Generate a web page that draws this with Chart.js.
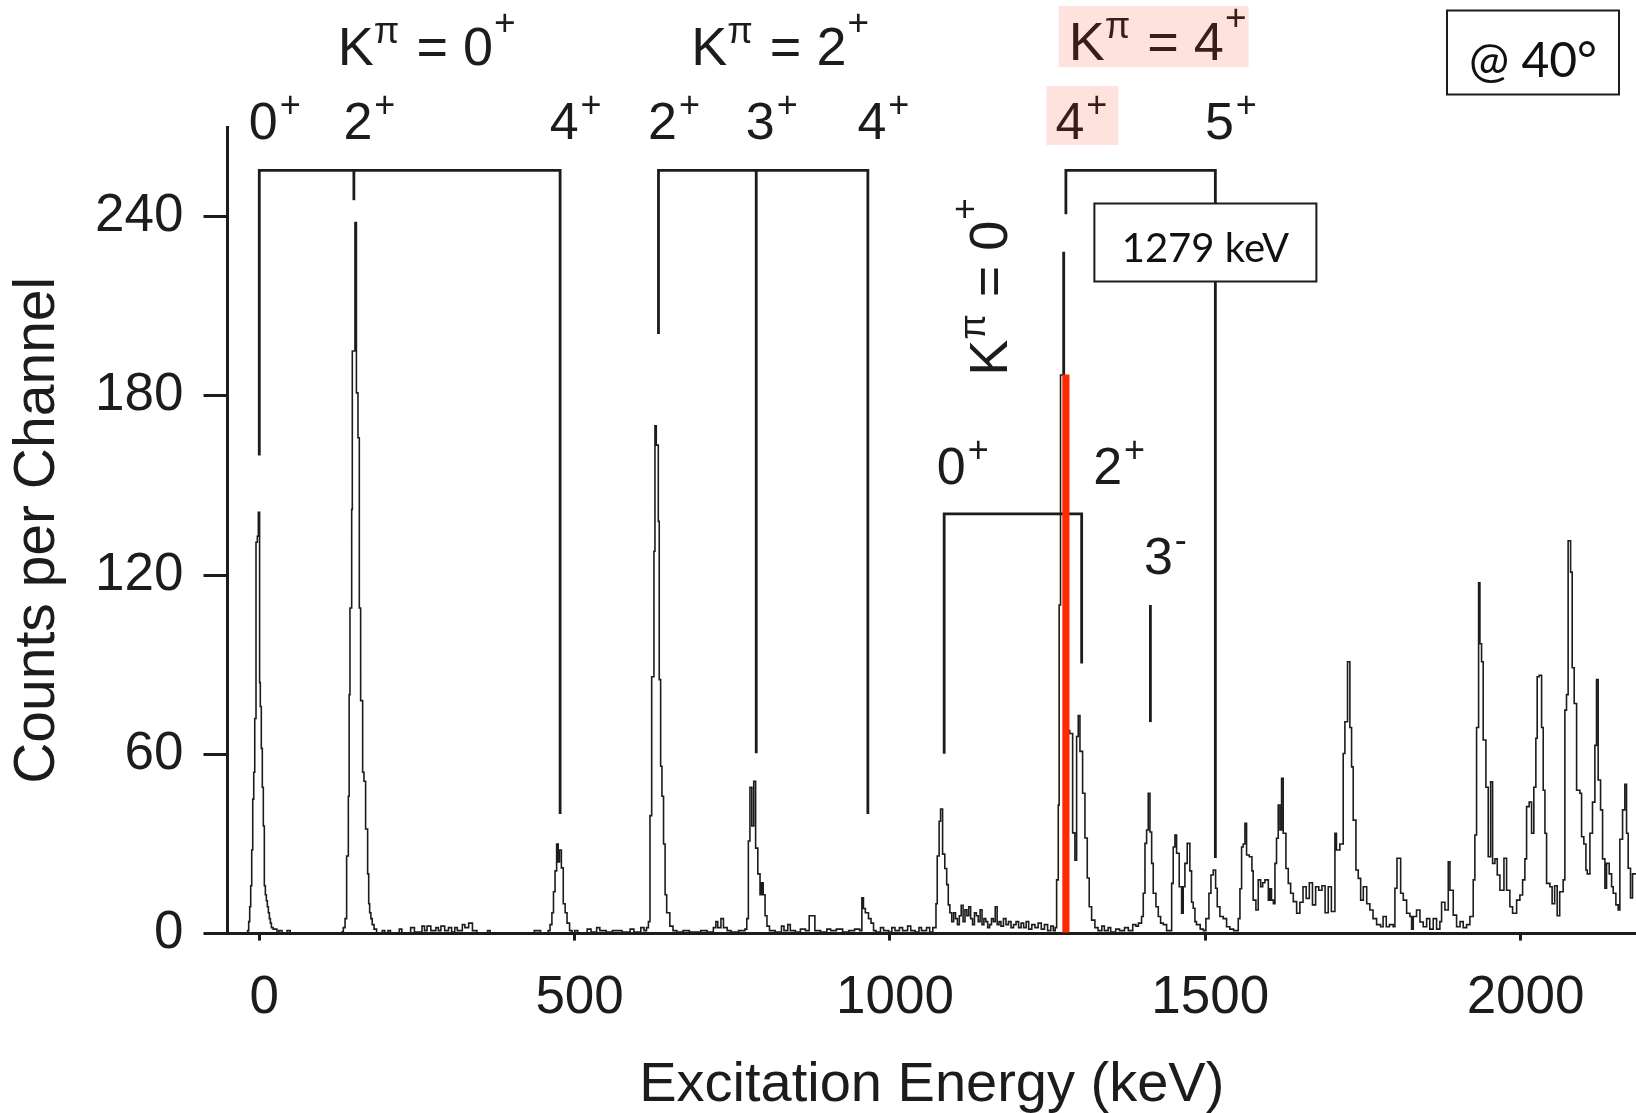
<!DOCTYPE html>
<html>
<head>
<meta charset="utf-8">
<title>Excitation spectrum @ 40°</title>
<script src="https://cdn.jsdelivr.net/npm/chart.js@4.4.1/dist/chart.umd.min.js"></script>
<style>
  html, body { margin: 0; padding: 0; background: #ffffff; }
  canvas { display: block; }
</style>
</head>
<body>
<canvas id="spectrum" width="1636" height="1113"></canvas>
<script>
// ---- spectrum: left edge of each channel group (keV) and counts per channel ----
const energy = [
  -22, -18.5, -16.8, -15.2, -13.6, -12.0, -10.4, -8.8, -7.2, -5.2, -3.1, -1.5, 0.5, 1.6, 3.2, 4.8, 6.4, 8.0, 9.6, 11.2, 12.8, 14.4, 16.0, 17.6, 19.2, 22, 28, 31, 36, 44, 49,
  131, 133.2, 136, 138.5, 141.2, 142.5, 143.8, 146.5, 147.5, 151.7, 154, 156.5, 158.6, 160.7, 163.9, 166, 168.6, 171.8, 173.5, 175, 177, 179, 182, 186,
  195, 199, 204, 208, 222, 226, 240, 246, 258, 262, 266, 272, 280, 284, 288, 294, 300, 305, 310, 314, 322, 326, 332, 338, 345, 362, 366, 436, 446,
  458, 461, 464, 466.5, 469, 471.5, 474, 476, 479, 482, 485, 488, 492, 496,
  500, 505, 520, 526, 535, 540, 550, 560, 575, 588, 594, 605, 610, 614, 617,
  619.5, 622.2, 625.8, 627.4, 629.5, 632.7, 634.2, 636.4, 638.5, 641, 643.5, 646, 651, 656, 662,
  672, 682, 700, 710, 720, 724, 727, 732, 736, 742, 748, 760, 770, 773,
  775.5, 778, 781, 784, 787, 790.5, 794, 796.5, 799, 802, 805, 809, 818, 828, 832, 838, 842, 850, 858, 866, 872, 881, 890, 900, 906, 915, 925, 935, 944, 952,
  955.5, 958, 961, 966, 970, 974, 978, 985, 990, 998, 1003, 1008, 1015, 1020, 1028, 1033, 1040, 1046, 1050, 1058, 1063, 1068,
  1073, 1075, 1078, 1080.3, 1083.5, 1087, 1090, 1092.5, 1095, 1098, 1101, 1104, 1107, 1110, 1113, 1116, 1119, 1122, 1125, 1128,
  1131, 1134, 1137, 1140, 1143, 1146, 1149, 1152, 1155, 1158, 1161, 1164, 1167, 1170, 1173, 1176, 1180, 1184, 1188, 1192,
  1196, 1200, 1204, 1208, 1212, 1216, 1220, 1225, 1230, 1235, 1240, 1245, 1250, 1255, 1259, 1262,
  1264.3, 1266.9, 1268.3, 1270.5, 1274.5, 1276.5, 1280, 1282.6, 1285, 1289.7, 1293.3, 1296, 1298.6, 1301.3, 1305.5, 1309.2, 1312.9, 1316, 1319.8, 1325,
  1330, 1336, 1340, 1346, 1350, 1358, 1364, 1372, 1378, 1385, 1390, 1394,
  1399, 1401.7, 1404.4, 1407, 1409.6, 1412.3, 1415, 1417.5, 1421.8, 1425.5, 1429.2, 1433.4, 1438.7, 1446.7, 1449.2, 1451.9, 1454.5, 1458.7, 1462.5, 1465,
  1467.7, 1471.4, 1475.6, 1478.3, 1480.9, 1483.6, 1486, 1492, 1497,
  1501, 1505.8, 1509, 1512.7, 1516.4, 1519, 1523.2, 1528.5, 1533.8, 1539, 1545, 1552.3, 1555, 1557.6, 1560.2, 1562.9, 1565.5, 1569.8, 1574, 1576,
  1580.3, 1584, 1587.8, 1591, 1594.6, 1600, 1602.5, 1605, 1608, 1610.5, 1613, 1615.7, 1618.4, 1621, 1623.6, 1627.9, 1631.6, 1635.4, 1639.6, 1644.9,
  1650, 1655, 1660, 1665, 1670, 1675, 1680, 1685, 1690, 1695, 1700,
  1705.6, 1708, 1713.4, 1718.7, 1721.4, 1725.6, 1729.3, 1732, 1734.6, 1738.9, 1742.6, 1746.4, 1750.6, 1756, 1761, 1766, 1771.7, 1778, 1782, 1787, 1792, 1798,
  1800.7, 1804, 1809.8, 1814, 1819.3, 1824.5, 1827.2, 1829.8, 1835, 1840.4, 1845.6, 1851, 1856, 1861.5, 1866.8, 1872, 1874.7, 1880, 1885.3, 1888,
  1893.2, 1898.5, 1904, 1909, 1914.4, 1919.6,
  1924.9, 1927.5, 1930.2, 1933.4, 1935.5, 1938.1, 1940.7, 1945, 1948.7, 1952.5, 1955.6, 1959.3, 1963, 1967.2, 1973.6, 1977.8, 1983, 1987.3, 1993.7, 1998.9,
  2003.2, 2006.8, 2009.5, 2013.6, 2017.4, 2021, 2024.2, 2026.3, 2029.5, 2033.3, 2035.9, 2038.6, 2041.2, 2046.5, 2050, 2054, 2058, 2062, 2067.5,
  2070.2, 2072.8, 2075.4, 2079.3, 2081.8, 2085, 2088.8, 2094, 2096.7, 2100.3, 2103.6, 2105.7, 2109.9, 2114, 2117.8, 2120.4, 2123, 2126.8, 2130, 2133.7,
  2136.3, 2140.5, 2144.3, 2146.9, 2151.1, 2154.8, 2157.4, 2161.7, 2165.3, 2168, 2170.6, 2174.3, 2177.5, 2183
];
const counts = [
  0, 1, 4, 9, 16, 28, 45, 54, 72, 131, 133, 141, 84, 76, 62, 49, 36, 16, 13, 11, 9, 7, 5, 3.5, 2, 1.5, 0, 1, 0, 1, 0,
  0.5, 2, 5, 26, 46, 80, 109, 142, 195, 238, 181, 166, 109, 78, 54, 51, 35, 20, 10, 7, 5, 3, 1.5, 0,
  1, 0, 1, 0, 1.5, 0, 2, 0.5, 2.5, 1, 2.5, 1, 2, 1, 2.5, 1, 2, 0.5, 2, 1, 3, 2, 3.5, 1, 0, 1, 0, 1, 0,
  1, 3, 7, 14, 21, 30, 24, 28, 22, 10, 7, 3.5, 1, 0,
  1, 0, 1.5, 0.5, 2, 1, 0.5, 1, 0.5, 1.5, 0.5, 2, 1, 2, 4,
  39.5, 86, 128, 170, 163.5, 138, 85, 56, 46, 30, 13, 7, 2.5, 1, 0.5,
  1, 0.5, 1, 0.5, 2, 4, 2, 5, 2, 1, 0.5, 1, 1.5, 5,
  31, 49, 36, 51, 28.6, 20, 13, 17, 13, 6, 2.5, 1, 0.5, 2.5, 1, 3, 1, 0.5, 1.5, 1, 6, 1, 0.5, 1.5, 1, 1.5, 0.5, 1, 1.5, 1,
  12, 8.4, 7, 5, 3.5, 1, 0.5, 2, 1, 0.5, 2, 1, 2, 1, 2.5, 1, 0.5, 2, 1, 2, 0.5, 2,
  10, 26, 37.6, 41.7, 26.6, 21.8, 16.4, 9.6, 7, 4, 7, 5, 3, 6, 9.5, 4, 8, 6, 9, 5,
  3, 7, 6, 4, 8, 3, 5, 4, 2, 3, 5, 4, 9, 3, 4, 2.5, 5, 3, 4, 2,
  3, 4, 2, 3.5, 2, 4, 1.5, 3, 2, 3.5, 1.5, 3, 1, 2.5, 1, 2,
  18, 43, 110, 187, 228, 180, 117, 68, 67, 33.7, 24.6, 66, 73, 61, 47, 32, 18.6, 9, 4.5, 2,
  1, 2.5, 1, 2, 0.5, 1.5, 1, 2, 1, 3, 2.5, 3.5,
  5.7, 13.5, 30.2, 34.7, 47, 34, 23.5, 13.5, 9, 5.7, 3.5, 3, 1, 16.8, 29, 33, 26.9, 15.7, 6.8, 15.7,
  23.5, 30.2, 21, 10.5, 8.5, 4, 3, 1.5, 1,
  5, 13.5, 19.6, 21.3, 15.2, 9, 5.7, 5, 2.3, 1.5, 1, 5, 15, 29, 30, 36.9, 26.3, 25.7, 21, 11.2,
  7.9, 18, 15.7, 17, 18, 11.2, 15, 11.2, 10, 23.5, 31.9, 43, 34.7, 52, 33.6, 21.8, 16.8, 13.5, 10.7, 6.8,
  10.5, 15.7, 11.8, 17, 9.6, 15.7, 14.5, 16, 7, 15.7, 7.4,
  33.6, 28, 30, 60.3, 70.9, 91, 69, 55.8, 38, 21.3, 18.5, 11.2, 15.7, 10, 7.9, 5, 3, 2.3, 5.7, 2.3, 3, 2.3,
  15.2, 25.2, 13.5, 11.2, 6.8, 5.7, 1.5, 5.7, 7.9, 3.9, 2.3, 5, 1.5, 5, 1.5, 4, 10.5, 7.9, 24, 14.5,
  6.2, 2.3, 4, 2, 3, 5.7,
  18, 33, 69, 117.4, 97, 91, 64.8, 49, 25.7, 50.8, 23.5, 25, 19.6, 14.5, 25.2, 14.5, 9, 6.8, 11.2, 12.9,
  18, 25, 42.5, 44, 33.6, 49, 65.4, 86, 86.5, 69, 48, 33.6, 16.8, 15.7, 10, 16, 6, 14, 18,
  74.8, 80, 131.5, 121, 89, 77, 48, 47, 32.4, 30, 21.3, 20, 33.6, 44, 63, 85, 51.4, 41.4, 25, 15.2,
  23.5, 20, 15.7, 13.5, 9.6, 7.9, 31.6, 41.4, 50, 33.6, 21.9, 11.9, 20, 20
];

// ---- axes ----
const xTicks = [0, 500, 1000, 1500, 2000];
const yTicks = [0, 60, 120, 180, 240];

// ---- level scheme: energies (keV), spins and parities ----
const levelEnergy = [0, 150, 477, 633, 788, 965, 1279, 1516, 1086, 1304, 1413];
const levelSpin   = ['0', '2', '4', '2', '3', '4', '4', '5', '0', '2', '3'];
const levelParity = ['+', '+', '+', '+', '+', '+', '+', '+', '+', '+', '-'];
const bandK       = ['0', '2', '4', '0'];
const bandLevels  = [[0, 1, 2], [3, 4, 5], [6, 7], [8, 9]];
const octupoleLevel = 10;

// highlighted 4+ state
const highlightEnergy = 1279;
const highlightCounts = 187;

if (energy.length !== counts.length) console.error('energy/counts length mismatch', energy.length, counts.length);

const INK = '#1c1c1c';
const FONT = '"Liberation Sans", Arial, Helvetica, sans-serif';
const BOXFONT = 'Lato, "Open Sans", sans-serif';
const PINK = '#fde2de';
const BROWN = '#3a1d18';

// drawing parameters of the level scheme (counts in axis units, the rest in px)
const scheme = {
  bracketCount: [255.5, 255.5, 255.5, 140.5],
  lineBottom: [160, 245.5, 40, 200.7, 60.4, 40, 240.8, 25.3, 60.2, 90.4],
  octupoleLine: [110, 70.8],
  labelShift: [4, 4, 4, 4, 4, 4, 4, 4, 7, 26, 8],
  labelRise: 31,
  headerBaseline: [65, 65, 60],
  headerShift: 17,
  lineWidth: 2.8
};

function runsWidth(ctx, runs) {
  let w = 0;
  for (const r of runs) { ctx.font = r.size + 'px ' + FONT; w += ctx.measureText(r.t).width + (r.gap || 0); }
  return w;
}
function drawRuns(ctx, x, y, runs, color) {
  ctx.fillStyle = color;
  ctx.textAlign = 'left';
  ctx.textBaseline = 'alphabetic';
  for (const r of runs) {
    ctx.font = r.size + 'px ' + FONT;
    ctx.fillText(r.t, x, y - (r.up || 0));
    x += ctx.measureText(r.t).width + (r.gap || 0);
  }
  return x;
}
const headerRuns = k => [
  { t: 'K', size: 54 }, { t: 'π', size: 37, up: 22, gap: 2 },
  { t: ' = ' + k, size: 54, gap: 1 }, { t: '+', size: 37, up: 30 }
];
const levelRuns = i => [
  { t: levelSpin[i], size: 52, gap: 2 }, { t: levelParity[i], size: 36, up: 22 }
];

function drawLevelLabel(ctx, xs, i, baseline, color) {
  ctx.font = '52px ' + FONT;
  const w = ctx.measureText(levelSpin[i]).width;
  drawRuns(ctx, xs.getPixelForValue(levelEnergy[i]) + scheme.labelShift[i] - w / 2, baseline, levelRuns(i), color);
}

const levelScheme = {
  id: 'levelScheme',
  beforeDatasetsDraw(chart) {
    const { ctx, scales: { x, y } } = chart;
    ctx.save();
    ctx.strokeStyle = INK;
    ctx.lineWidth = scheme.lineWidth;
    ctx.lineJoin = 'miter';
    ctx.lineCap = 'butt';
    bandLevels.forEach((lv, b) => {
      const yb = y.getPixelForValue(scheme.bracketCount[b]);
      const first = lv[0], last = lv[lv.length - 1];
      ctx.beginPath();
      ctx.moveTo(x.getPixelForValue(levelEnergy[first]), y.getPixelForValue(scheme.lineBottom[first]));
      ctx.lineTo(x.getPixelForValue(levelEnergy[first]), yb);
      ctx.lineTo(x.getPixelForValue(levelEnergy[last]), yb);
      ctx.lineTo(x.getPixelForValue(levelEnergy[last]), y.getPixelForValue(scheme.lineBottom[last]));
      ctx.stroke();
      lv.slice(1, -1).forEach(i => {
        const px = x.getPixelForValue(levelEnergy[i]);
        ctx.beginPath();
        ctx.moveTo(px, yb);
        ctx.lineTo(px, y.getPixelForValue(scheme.lineBottom[i]));
        ctx.stroke();
      });
    });
    const ox = x.getPixelForValue(levelEnergy[octupoleLevel]);
    ctx.beginPath();
    ctx.moveTo(ox, y.getPixelForValue(scheme.octupoleLine[0]));
    ctx.lineTo(ox, y.getPixelForValue(scheme.octupoleLine[1]));
    ctx.stroke();
    ctx.restore();
  },
  afterDatasetsDraw(chart) {
    const { ctx, scales: { x, y } } = chart;
    ctx.save();

    // band headers and level labels above the spectrum
    [0, 1, 2].forEach(b => {
      const lv = bandLevels[b];
      const yb = y.getPixelForValue(scheme.bracketCount[b]);
      const x0 = x.getPixelForValue(levelEnergy[lv[0]]);
      const x1 = x.getPixelForValue(levelEnergy[lv[lv.length - 1]]);
      const runs = headerRuns(bandK[b]);
      const w = runsWidth(ctx, runs);
      const left = (x0 + x1) / 2 + scheme.headerShift - w / 2;
      const base = scheme.headerBaseline[b];
      const highlighted = b === 2;
      if (highlighted) {
        ctx.fillStyle = PINK;
        ctx.fillRect(left - 10, 6, w + 12, 61);
        ctx.fillRect(x.getPixelForValue(highlightEnergy) - 19.5, 86, 72, 59);
      }
      drawRuns(ctx, left, base, runs, highlighted ? BROWN : INK);
      lv.forEach(i => drawLevelLabel(ctx, x, i, yb - scheme.labelRise, (highlighted && levelEnergy[i] === highlightEnergy) ? BROWN : INK));
    });

    // second K = 0 band: labels, and its rotated header
    const yb3 = y.getPixelForValue(scheme.bracketCount[3]);
    bandLevels[3].forEach(i => drawLevelLabel(ctx, x, i, yb3 - 30, INK));
    ctx.save();
    ctx.translate(x.getPixelForValue(levelEnergy[8]) + 63, yb3 - 138);
    ctx.rotate(-Math.PI / 2);
    drawRuns(ctx, 0, 0, headerRuns(bandK[3]), INK);
    ctx.restore();

    // 3- level label
    drawLevelLabel(ctx, x, octupoleLevel, y.getPixelForValue(scheme.octupoleLine[0]) - 31, INK);

    // energy box next to the highlighted state
    const bx = x.getPixelForValue(highlightEnergy) + 28.5;
    ctx.fillStyle = '#ffffff';
    ctx.fillRect(bx, 203.5, 222, 78);
    ctx.strokeStyle = INK;
    ctx.lineWidth = 2;
    ctx.strokeRect(bx, 203.5, 222, 78);
    ctx.fillStyle = '#111111';
    ctx.font = '40px ' + BOXFONT;
    ctx.textAlign = 'center';
    ctx.textBaseline = 'alphabetic';
    ctx.fillText(highlightEnergy + ' keV', bx + 111, 262);

    // angle box in the corner
    ctx.fillStyle = '#ffffff';
    ctx.fillRect(1447, 10.5, 172, 84);
    ctx.strokeRect(1447, 10.5, 172, 84);
    ctx.fillStyle = '#111111';
    ctx.font = '48px ' + BOXFONT;
    ctx.fillText('@ 40°', 1533, 77);

    ctx.restore();
  }
};

new Chart(document.getElementById('spectrum'), {
  type: 'line',
  data: {
    datasets: [
      {
        type: 'bar',
        label: 'highlight',
        data: [{ x: highlightEnergy, y: highlightCounts }],
        backgroundColor: '#ff2a00',
        borderWidth: 0,
        barThickness: 6.5,
        order: 0
      },
      {
        type: 'line',
        label: 'Counts per Channel',
        data: energy.map((e, i) => ({ x: e, y: counts[i] })),
        stepped: true,
        borderColor: INK,
        borderWidth: 1.6,
        pointRadius: 0,
        fill: false,
        order: 1
      }
    ]
  },
  options: {
    responsive: false,
    animation: false,
    devicePixelRatio: 1,
    events: [],
    layout: { padding: { top: 127, left: 0, right: 0, bottom: 0 } },
    plugins: { legend: { display: false }, tooltip: { enabled: false } },
    scales: {
      x: {
        type: 'linear',
        min: -50.4,
        max: 2183,
        offset: false,
        afterBuildTicks: s => { s.ticks = xTicks.map(v => ({ value: v })); },
        afterFit: s => { s.height = 179.4; },
        grid: { offset: false, drawOnChartArea: false, drawTicks: true, tickLength: 7, lineWidth: 3, color: INK },
        border: { display: true, width: 3, color: INK },
        ticks: {
          color: INK, font: { family: FONT, size: 53 }, padding: 26, maxRotation: 0, autoSkip: false,
          labelOffset: 5, callback: v => String(v)
        },
        title: { display: true, text: 'Excitation Energy (keV)', color: INK, font: { family: FONT, size: 56 }, padding: { top: 0, bottom: -6 } }
      },
      y: {
        type: 'linear',
        min: 0,
        max: 270,
        afterBuildTicks: s => { s.ticks = yTicks.map(v => ({ value: v })); },
        afterFit: s => { s.width = 227.5; },
        grid: { drawOnChartArea: false, drawTicks: true, tickLength: 24, lineWidth: 3, color: INK },
        border: { display: true, width: 3, color: INK },
        ticks: { color: INK, font: { family: FONT, size: 53 }, padding: 20, callback: v => String(v) },
        title: { display: true, text: 'Counts per Channel', color: INK, font: { family: FONT, size: 57 }, padding: { top: 4, bottom: 0 } }
      }
    }
  },
  plugins: [levelScheme]
});
</script>
</body>
</html>
